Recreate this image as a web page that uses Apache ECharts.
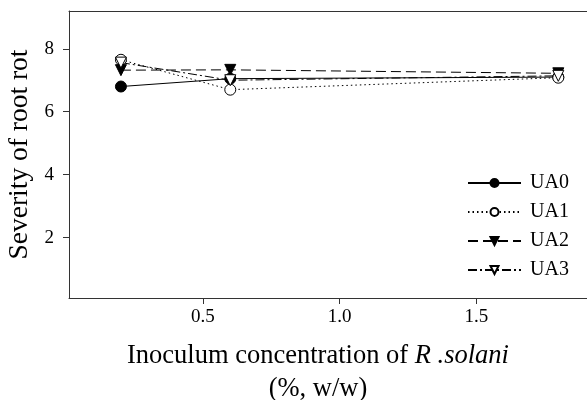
<!DOCTYPE html>
<html>
<head>
<meta charset="utf-8">
<script src="https://cdn.jsdelivr.net/npm/echarts@6/dist/echarts.min.js"></script>
<style>
  html, body { margin: 0; padding: 0; background: #fff; }
  #chart { width: 587px; height: 400px; }
</style>
</head>
<body>
<div id="chart"></div>
<script>
// Inoculum concentration (%, w/w)
const concentration = [0.2, 0.6, 1.8];
// Severity of root rot for each treatment
const UA0 = [6.8, 7.05, 7.1];
const UA1 = [7.65, 6.7, 7.08];
const UA2 = [7.32, 7.33, 7.22];
const UA3 = [7.56, 7.0, 7.14];
const seriesNames = ['UA0', 'UA1', 'UA2', 'UA3'];
const xTicks = [0.5, 1.0, 1.5];
const yTicks = [2, 4, 6, 8];

const FONT = '"Liberation Serif", "Times New Roman", serif';
const INK = '#000';
const AXIS = '#333';

function pairs(values) {
  return concentration.map((x, i) => [x, values[i]]);
}

const styles = {
  UA0: { symbol: 'circle', rotate: 0, fill: INK, dash: 'solid' },
  UA1: { symbol: 'circle', rotate: 0, fill: '#fff', dash: [1.5, 3] },
  UA2: { symbol: 'triangle', rotate: 180, fill: INK, dash: [10, 5] },
  UA3: { symbol: 'triangle', rotate: 180, fill: '#fff', dash: [9, 3, 2, 3] }
};
const valuesByName = { UA0, UA1, UA2, UA3 };

const chart = echarts.init(document.getElementById('chart'), null, { renderer: 'canvas' });

chart.setOption({
  animation: false,
  backgroundColor: '#fff',
  textStyle: { fontFamily: FONT, color: INK },
  grid: { left: 69, right: 0, top: 11, bottom: 102, outerBoundsMode: 'none', containLabel: false },
  legend: {
    orient: 'vertical',
    left: 467,
    top: 173,
    padding: 0,
    itemWidth: 53,
    itemHeight: 10,
    itemGap: 9,
    data: seriesNames,
    textStyle: { fontFamily: FONT, fontSize: 20, color: INK, padding: [0, 0, 0, 4] }
  },
  xAxis: [{
    type: 'value',
    min: 0.01,
    max: 1.905,
    name: '{a|Inoculum concentration of }{i|R .solani}\n{a|(%, w/w)}',
    nameLocation: 'middle',
    nameGap: 42,
    nameTextStyle: {
      padding: [0, 20, 0, 0],
      rich: {
        a: { fontFamily: FONT, fontSize: 26.5, color: INK, lineHeight: 33 },
        i: { fontFamily: FONT, fontSize: 26.5, color: INK, fontStyle: 'italic', lineHeight: 33 }
      }
    },
    axisLine: { show: true, lineStyle: { color: AXIS, width: 1 } },
    axisTick: { show: true, inside: false, length: 6, lineStyle: { color: AXIS }, customValues: xTicks },
    axisLabel: {
      customValues: xTicks,
      margin: 10,
      fontFamily: FONT, fontSize: 19, color: INK,
      formatter: v => v.toFixed(1)
    },
    splitLine: { show: false }
  }, {
    // frame line along the top of the plot
    type: 'value',
    position: 'top',
    min: 0.01,
    max: 1.905,
    axisLine: { show: true, lineStyle: { color: AXIS, width: 1 } },
    axisTick: { show: false },
    axisLabel: { show: false },
    splitLine: { show: false }
  }],
  yAxis: {
    type: 'value',
    min: 0.08,
    max: 9.2,
    name: 'Severity of root rot',
    nameLocation: 'middle',
    nameGap: 35,
    nameTextStyle: { fontFamily: FONT, fontSize: 27.5, color: INK },
    axisLine: { show: true, lineStyle: { color: AXIS, width: 1 } },
    axisTick: { show: true, inside: false, length: 6, lineStyle: { color: AXIS }, customValues: yTicks },
    axisLabel: {
      customValues: yTicks,
      margin: 15,
      fontFamily: FONT, fontSize: 19, color: INK,
      formatter: v => String(v)
    },
    splitLine: { show: false }
  },
  series: seriesNames.map(name => {
    const s = styles[name];
    return {
      name,
      type: 'line',
      xAxisIndex: 0,
      data: pairs(valuesByName[name]),
      symbol: s.symbol,
      symbolRotate: s.rotate,
      symbolSize: 11,
      showAllSymbol: true,
      lineStyle: { color: INK, width: 1, type: s.dash },
      itemStyle: { color: s.fill, borderColor: INK, borderWidth: 1 },
      emphasis: { disabled: true }
    };
  })
});
</script>
</body>
</html>
